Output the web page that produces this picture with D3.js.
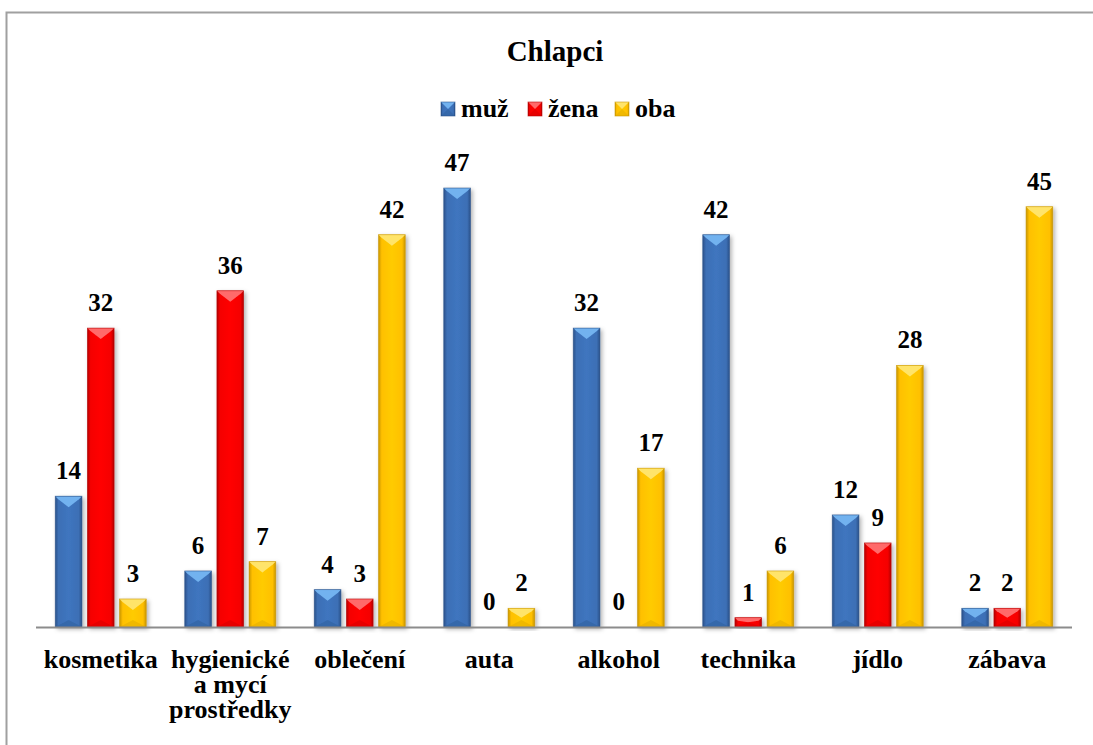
<!DOCTYPE html>
<html>
<head>
<meta charset="utf-8">
<script src="https://cdn.jsdelivr.net/npm/d3@7/dist/d3.min.js"></script>
<style>
  html, body { margin: 0; padding: 0; background: #fff; }
  svg { display: block; }
</style>
</head>
<body>
<svg id="chart" width="1093" height="745"></svg>
<script>
// Chart data
const title = "Chlapci";
const categories = ["kosmetika", "hygienické\na mycí\nprostředky", "oblečení", "auta", "alkohol", "technika", "jídlo", "zábava"];
const seriesNames = ["muž", "žena", "oba"];
const muz  = [14, 6, 4, 47, 32, 42, 12, 2];
const zena = [32, 36, 3, 0, 0, 1, 9, 2];
const oba  = [3, 7, 42, 2, 17, 6, 28, 45];
const seriesValues = [muz, zena, oba];

const FONT = "Liberation Serif";

// Colour sets per series: base face, light top facet, dark side/bottom facet
const palette = [
  { base: "#3c6fb5", top: "#72b2ef", side: "#2a5189", bottom: "#30609f" },
  { base: "#f50000", top: "#ff6a6a", side: "#b30000", bottom: "#d80000" },
  { base: "#ffc000", top: "#ffe46a", side: "#c99600", bottom: "#e6ad00" }
];

const svg = d3.select("#chart");

const defs = svg.append("defs");
const shadow = defs.append("filter").attr("id", "barShadow")
  .attr("x", "-40%").attr("y", "-10%").attr("width", "180%").attr("height", "130%");
shadow.append("feDropShadow").attr("dx", 2).attr("dy", 2)
  .attr("stdDeviation", 2).attr("flood-color", "#000").attr("flood-opacity", 0.3);

palette.forEach((p, i) => {
  const g = defs.append("linearGradient").attr("id", "face" + i)
    .attr("x1", "0").attr("x2", "1").attr("y1", "0").attr("y2", "0");
  g.append("stop").attr("offset", "0").attr("stop-color", p.side);
  g.append("stop").attr("offset", "0.12").attr("stop-color", p.base);
  g.append("stop").attr("offset", "0.5").attr("stop-color", d3.color(p.base).brighter(0.15));
  g.append("stop").attr("offset", "0.88").attr("stop-color", p.base);
  g.append("stop").attr("offset", "1").attr("stop-color", p.side);
});

// Outer frame
svg.append("rect").attr("x", 6.5).attr("y", 12.5).attr("width", 1200).attr("height", 900)
  .attr("fill", "none").attr("stroke", "#a0a0a0").attr("stroke-width", 2);

// Scales
const x0 = d3.scaleBand().domain(d3.range(categories.length)).range([36, 1072]).padding(0);
const groupW = 91;
const x1 = d3.scaleBand().domain(d3.range(seriesNames.length)).range([0, groupW]).paddingInner(0.17);
const y = d3.scaleLinear().domain([0, 50]).range([627, 160]);

// Draws one bevelled block into g
function bevelBar(g, x, yTop, w, h, si) {
  const p = palette[si];
  const d = Math.min(11, h / 2);
  const s = Math.min(3, w / 2);
  g.append("rect").attr("x", x).attr("y", yTop).attr("width", w).attr("height", h)
    .attr("fill", `url(#face${si})`);
  if (h <= 0) return;
  // top facet
  g.append("path")
    .attr("d", `M${x},${yTop}L${x + w},${yTop}L${x + w - s},${yTop + Math.min(3, d)}L${x + w / 2},${yTop + d}L${x + s},${yTop + Math.min(3, d)}Z`)
    .attr("fill", p.top);
  // bottom facet
  const db = Math.min(7, h / 2);
  g.append("path")
    .attr("d", `M${x},${yTop + h}L${x + w},${yTop + h}L${x + w / 2},${yTop + h - db}Z`)
    .attr("fill", p.bottom).attr("opacity", 0.6);
  g.append("rect").attr("x", x).attr("y", yTop).attr("width", w).attr("height", h)
    .attr("fill", "none").attr("stroke", p.side).attr("stroke-width", 0.8).attr("stroke-opacity", 0.7);
}

function label(sel, size) {
  return sel.attr("font-family", FONT).attr("font-weight", "bold")
    .attr("font-size", size).attr("fill", "#000");
}

// Bars
const barsG = svg.append("g");
categories.forEach((c, ci) => {
  const gx = x0(ci) + (x0.bandwidth() - groupW) / 2;
  seriesValues.forEach((vals, si) => {
    const v = vals[ci];
    const bx = gx + x1(si);
    const bw = x1.bandwidth();
    const top = y(v);
    const h = y(0) - top;
    if (h > 0) {
      const bg = barsG.append("g").attr("filter", "url(#barShadow)");
      bevelBar(bg, bx, top, bw, h, si);
    }
    label(svg.append("text"), 25)
      .attr("x", bx + bw / 2).attr("y", top - 17)
      .attr("text-anchor", "middle")
      .text(v);
  });
});

// Category axis
svg.append("line").attr("x1", 36).attr("x2", 1072).attr("y1", 627.5).attr("y2", 627.5)
  .attr("stroke", "#8c8c8c").attr("stroke-width", 2);

categories.forEach((c, ci) => {
  const cx = x0(ci) + x0.bandwidth() / 2;
  const t = label(svg.append("text"), 26)
    .attr("x", cx).attr("y", 668)
    .attr("text-anchor", "middle");
  c.split("\n").forEach((line, li) => {
    t.append("tspan").attr("x", cx).attr("y", 668 + li * 25).text(line);
  });
});

// Title
label(svg.append("text"), 29).attr("x", 555).attr("y", 61).attr("text-anchor", "middle")
  .text(title);

// Legend
const legendX = [441, 528, 615];
seriesNames.forEach((n, si) => {
  const lg = svg.append("g");
  bevelBar(lg, legendX[si], 102, 14, 14, si);
  label(svg.append("text"), 26).attr("x", legendX[si] + 20).attr("y", 117)
    .text(n);
});
</script>
</body>
</html>
